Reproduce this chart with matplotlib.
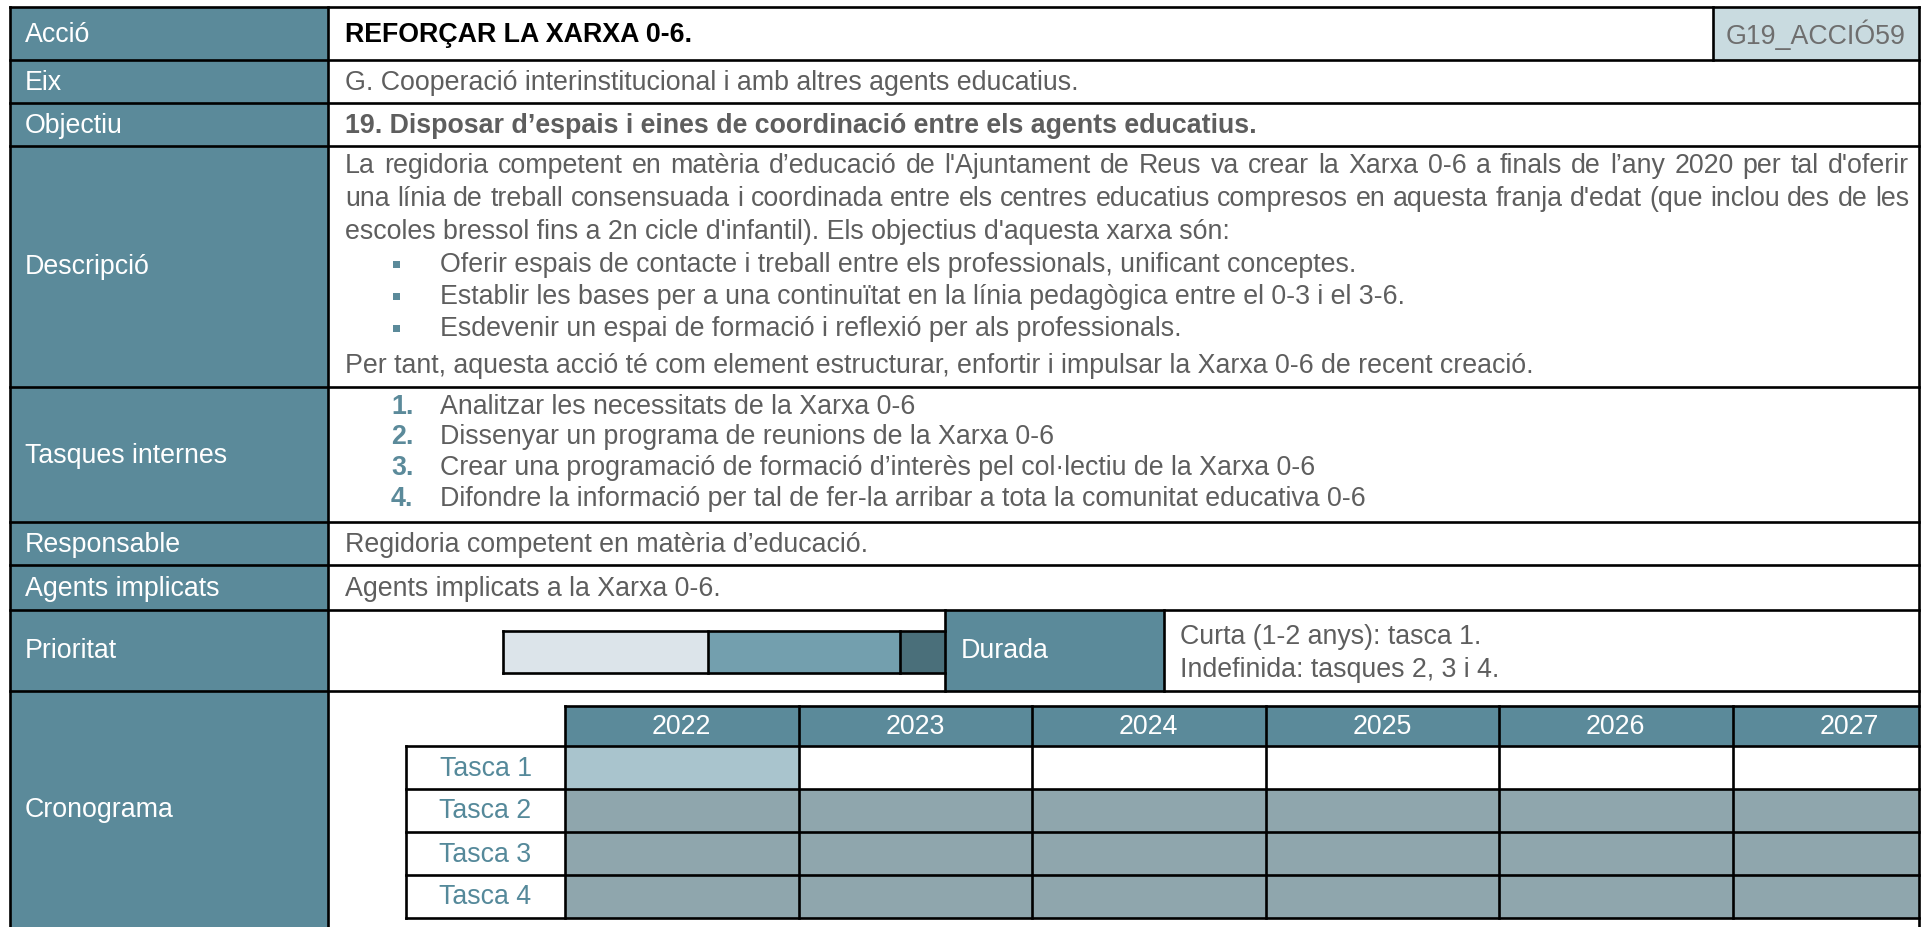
import matplotlib
matplotlib.use("Agg")
import matplotlib.pyplot as plt
from matplotlib.patches import Rectangle

# ---------------- data ----------------
row_labels = ["Acció", "Eix", "Objectiu", "Descripció", "Tasques internes",
              "Responsable", "Agents implicats", "Prioritat", "Cronograma"]
accio_text = "REFORÇAR LA XARXA 0-6."
accio_code = "G19_ACCIÓ59"
eix_text = "G. Cooperació interinstitucional i amb altres agents educatius."
objectiu_text = "19. Disposar d’espais i eines de coordinació entre els agents educatius."
desc_lines = [
    "La regidoria competent en matèria d’educació de l'Ajuntament de Reus va crear la Xarxa 0-6 a finals de l’any 2020 per tal d'oferir",
    "una línia de treball consensuada i coordinada entre els centres educatius compresos en aquesta franja d'edat (que inclou des de les",
    "escoles bressol fins a 2n cicle d'infantil). Els objectius d'aquesta xarxa són:",
]
desc_bullets = [
    "Oferir espais de contacte i treball entre els professionals, unificant conceptes.",
    "Establir les bases per a una continuïtat en la línia pedagògica entre el 0-3 i el 3-6.",
    "Esdevenir un espai de formació i reflexió per als professionals.",
]
desc_last = "Per tant, aquesta acció té com element estructurar, enfortir i impulsar la Xarxa 0-6 de recent creació."
tasques = [
    "Analitzar les necessitats de la Xarxa 0-6",
    "Dissenyar un programa de reunions de la Xarxa 0-6",
    "Crear una programació de formació d’interès pel col·lectiu de la Xarxa 0-6",
    "Difondre la informació per tal de fer-la arribar a tota la comunitat educativa 0-6",
]
responsable_text = "Regidoria competent en matèria d’educació."
agents_text = "Agents implicats a la Xarxa 0-6."
durada_label = "Durada"
durada_lines = ["Curta (1-2 anys): tasca 1.", "Indefinida: tasques 2, 3 i 4."]
prioritat_segments = [167, 156, 37]          # relative widths of the priority bar pieces
years = ["2022", "2023", "2024", "2025", "2026", "2027"]
task_labels = ["Tasca 1", "Tasca 2", "Tasca 3", "Tasca 4"]
# 0 = empty, 1 = short term, 2 = indefinite
schedule = [
    [1, 0, 0, 0, 0, 0],
    [2, 2, 2, 2, 2, 2],
    [2, 2, 2, 2, 2, 2],
    [2, 2, 2, 2, 2, 2],
]

# ---------------- style ----------------
TEAL = "#5B8A9A"
GRAY_TXT = "#5E5E5E"
CODE_BG = "#C9DBE0"
TASK_FILL = "#8FA6AD"
SHORT_FILL = "#A9C4CD"
PRIO_COLORS = ["#DCE4EA", "#739FAE", "#4A6F7A"]
TASK_TXT = "#55899A"
LW = 1.9
FONT = "Liberation Sans"
FS = 19.3

W, H = 1925, 927
fig = plt.figure(figsize=(W / 100, H / 100), dpi=100)
ax = fig.add_axes([0, 0, 1, 1])
ax.set_xlim(0, W)
ax.set_ylim(H, 0)
ax.axis("off")

X0, XC, X1 = 10, 328, 1919
row_edges = [7, 60, 103, 146, 387, 522, 565, 610, 691, 927]
TX = 345

def rect(x0, y0, x1, y1, fc, ec="none", lw=0, z=1):
    ax.add_patch(Rectangle((x0, y0), x1 - x0, y1 - y0, facecolor=fc, edgecolor=ec, lw=lw, zorder=z))

def hline(x0, x1, y, z=5):
    ax.plot([x0, x1], [y, y], color="black", lw=LW, zorder=z, solid_capstyle="projecting")

def vline(x, y0, y1, z=5):
    ax.plot([x, x], [y0, y1], color="black", lw=LW, zorder=z, solid_capstyle="projecting")

def txt(x, y, s, color=GRAY_TXT, ha="left", weight="normal", size=FS, z=6):
    return ax.text(x, y, s, color=color, ha=ha, va="center", fontsize=size,
                   fontweight=weight, family=FONT, zorder=z)

# left header column
rect(X0, row_edges[0], XC, row_edges[-1], TEAL)
for i, lab in enumerate(row_labels):
    yc = (row_edges[i] + row_edges[i + 1]) / 2
    txt(25, yc + 1, lab, color="white")

# grid lines
for y in row_edges[:-1]:
    hline(X0, X1, y)
vline(X0, row_edges[0], H)
vline(XC, row_edges[0], H)
vline(X1, row_edges[0], H)

def cy(i):
    return (row_edges[i] + row_edges[i + 1]) / 2 + 1

# Acció row
CODE_X = 1713
rect(CODE_X, row_edges[0], X1, row_edges[1], CODE_BG)
vline(CODE_X, row_edges[0], row_edges[1])
txt(TX, cy(0), accio_text, color="black", weight="bold")
txt((CODE_X + X1) / 2, cy(0), accio_code, color="#6E6E6E", ha="center")
txt(TX, cy(1), eix_text)
txt(TX, cy(2), objectiu_text, weight="bold")

# Descripció
fig.canvas.draw()
renderer = fig.canvas.get_renderer()

def text_width(s, weight="normal"):
    t = ax.text(0, 0, s, fontsize=FS, family=FONT, fontweight=weight)
    w = t.get_window_extent(renderer).width
    t.remove()
    return w

RIGHT_J = 1909
def justified(line, y, x0=TX, x1=RIGHT_J):
    words = line.split(" ")
    widths = [text_width(w) for w in words]
    gap = (x1 - x0 - sum(widths)) / (len(words) - 1)
    x = x0
    for w, wd in zip(words, widths):
        txt(x, y, w)
        x += wd + gap

desc_y = [166, 199, 232]
justified(desc_lines[0], desc_y[0])
justified(desc_lines[1], desc_y[1])
txt(TX, desc_y[2], desc_lines[2])
bul_y = [265, 297, 329]
for yb, b in zip(bul_y, desc_bullets):
    rect(393, yb - 4, 400, yb + 3, TEAL, z=6)
    txt(440, yb, b)
txt(TX, 366, desc_last)

# Tasques
tq_y = [407, 437, 468, 499]
for k, (yt, t) in enumerate(zip(tq_y, tasques)):
    txt(391, yt, f"{k + 1}.", color=TEAL, weight="bold")
    txt(440, yt, t)

txt(TX, cy(5), responsable_text)
txt(TX, cy(6), agents_text)

# Prioritat
BX0, BX1 = 503, 945
BY0, BY1 = 631, 673
tot = sum(prioritat_segments)
x = BX0
for seg, c in zip(prioritat_segments, PRIO_COLORS):
    xe = x + seg / tot * (BX1 - BX0)
    rect(x, BY0, xe, BY1, c, z=3)
    if x > BX0:
        vline(x, BY0, BY1, z=4)
    x = xe
hline(BX0, BX1, BY0)
hline(BX0, BX1, BY1)
vline(BX0, BY0, BY1)
DX0, DX1 = 945, 1164
rect(DX0, row_edges[7], DX1, row_edges[8], TEAL, z=2)
vline(DX0, row_edges[7], row_edges[8])
vline(DX1, row_edges[7], row_edges[8])
txt(961, cy(7), durada_label, color="white")
txt(1180, 637, durada_lines[0])
txt(1180, 670, durada_lines[1])

# Cronograma
GX0 = 565
CW = 233.5
LX0 = 406
HY0, HY1 = 706, 746
RH = 43
rect(GX0, HY0, X1, HY1, TEAL, z=2)
hline(GX0, X1, HY0)
for j, yr in enumerate(years):
    cx0 = GX0 + j * CW
    vline(cx0, HY0, HY1 + RH * len(task_labels))
    txt(cx0 + CW / 2, (HY0 + HY1) / 2 + 1, yr, color="white", ha="center")
fills = {0: "white", 1: SHORT_FILL, 2: TASK_FILL}
for i, lab in enumerate(task_labels):
    y0 = HY1 + i * RH
    y1 = y0 + RH
    for j in range(len(years)):
        cx0 = GX0 + j * CW
        cx1 = min(cx0 + CW, X1)
        rect(cx0, y0, cx1, y1, fills[schedule[i][j]], z=2)
    txt((LX0 + GX0) / 2, (y0 + y1) / 2 + 1, lab, color=TASK_TXT, ha="center")
    hline(LX0, X1, y0)
hline(LX0, X1, HY1 + RH * len(task_labels))
vline(LX0, HY1, HY1 + RH * len(task_labels))

fig.savefig("out.png", dpi=100)
